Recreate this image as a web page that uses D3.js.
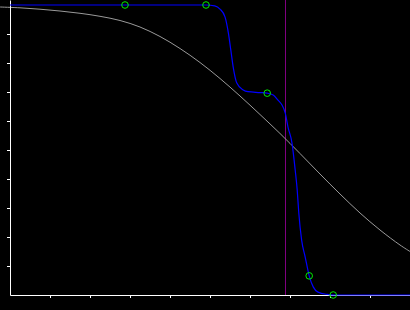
<!DOCTYPE html>
<html>
<head>
<meta charset="utf-8">
<script src="https://cdn.jsdelivr.net/npm/d3@7"></script>
<style>
html,body{margin:0;padding:0;background:#000;}
svg{display:block;background:#000;}
</style>
</head>
<body>
<script>
// ---- data ----
const xTicks = [1,2,3,4,5,6,7,8,9];
const yTicks = [0.1,0.2,0.3,0.4,0.5,0.6,0.7,0.8,0.9];

// gray reference curve (x, y)
const grayX = [-0.25,0.25,0.75,1.25,1.75,2.25,2.75,3.25,3.75,4.25,4.75,5.25,5.75,6.25,6.75,7.25,7.75,8.25,8.75,9.25,9.75,10.0];
const grayY = [0.9931,0.9903,0.9855,0.9793,0.9714,0.9610,0.9466,0.9241,0.8914,0.8500,0.8017,0.7466,0.6862,0.6224,0.5569,0.4879,0.4172,0.3483,0.2828,0.2241,0.1724,0.1500];

// blue fitted curve (x, y)
const blueX = [0,2.875,4.9,5.12,5.25,5.375,5.46,5.52,5.58,5.67,5.83,5.95,6.25,6.43,6.58,6.7,6.8,6.88,6.95,7.05,7.13,7.18,7.22,7.29,7.38,7.48,7.58,7.7,7.93,8.08,10];
const blueY = [1.0,1.0,1.0,0.997,0.986,0.959,0.903,0.845,0.786,0.731,0.707,0.701,0.698,0.696,0.690,0.672,0.655,0.628,0.579,0.524,0.431,0.362,0.283,0.190,0.131,0.066,0.028,0.010,0.002,0.0,0.0];

// control points (x, y)
const ptX = [2.875,4.9,6.43,7.48,8.08];
const ptY = [1.0,1.0,0.696,0.066,0.0];

// vertical marker position
const markerX = 6.8875;

const W = 410, H = 310;
const svg = d3.select("body").append("svg").attr("width", W).attr("height", H);

const x = d3.scaleLinear().domain([0,10]).range([10,410]);
const y = d3.scaleLinear().domain([0, 1 + 5/290]).range([295,0]);

// purple vertical marker
svg.append("line")
  .attr("x1", x(markerX)).attr("x2", x(markerX))
  .attr("y1", 0).attr("y2", y(0))
  .attr("stroke", "#800080").attr("stroke-width", 1);

// gray curve
const grayData = grayX.map((v,i)=>[v, grayY[i]]);
svg.append("path")
  .datum(grayData)
  .attr("fill","none")
  .attr("stroke","#9a9a9a")
  .attr("stroke-width",1)
  .attr("d", d3.line().x(d=>x(d[0])).y(d=>y(d[1])).curve(d3.curveCatmullRom));

// axes
const yAxis = d3.axisLeft(y).tickValues(yTicks).tickSize(3).tickSizeOuter(0).tickFormat("");
const xAxis = d3.axisBottom(x).tickValues(xTicks).tickSize(3).tickSizeOuter(0).tickFormat("");
const gy = svg.append("g").attr("transform","translate(10,0)").call(yAxis);
const gx = svg.append("g").attr("transform","translate(0,295)").call(xAxis);
[gx, gy].forEach(g=>{
  g.selectAll("path,line").attr("stroke","#fff").attr("stroke-width",1);
});

// blue curve
const blueData = blueX.map((v,i)=>[v, blueY[i]]);
svg.append("path")
  .datum(blueData)
  .attr("fill","none")
  .attr("stroke","#0000ff")
  .attr("stroke-width",1.2)
  .attr("d", d3.line().x(d=>x(d[0])).y(d=>y(d[1])).curve(d3.curveMonotoneX));

// green control points
svg.selectAll("circle.pt")
  .data(ptX.map((v,i)=>[v, ptY[i]]))
  .enter().append("circle")
  .attr("class","pt")
  .attr("cx", d=>x(d[0]))
  .attr("cy", d=>y(d[1]))
  .attr("r", 3.3)
  .attr("fill","none")
  .attr("stroke","#00ee00")
  .attr("stroke-width",1);
</script>
</body>
</html>
